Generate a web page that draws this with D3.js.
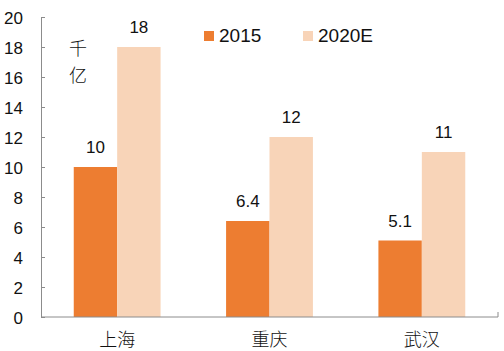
<!DOCTYPE html>
<html>
<head>
<meta charset="utf-8">
<script src="https://cdn.jsdelivr.net/npm/d3@7"></script>
<style>
  body { margin: 0; background: #fff; }
  .chart svg { display: block; }
  text { fill: #111; }
</style>
</head>
<body>
<div class="chart"></div>
<script>
const WIDTH = 504;
const HEIGHT = 351;

const LEFT = 41, RIGHT = 498, TOP = 17, BOTTOM = 317;

var cities = ['上海', '重庆', '武汉'];
var series = ['2015', '2020E'];
var values2015 = [10, 6.4, 5.1];
var values2020 = [18, 12, 11];
var yTicks = [0, 2, 4, 6, 8, 10, 12, 14, 16, 18, 20];
var unitLabel = ['千', '亿'];

var colors = { '2015': '#ED7D31', '2020E': '#F8D4B8' };

var data = cities.map(function (c, i) {
    return { city: c, vals: [
        { key: '2015', v: values2015[i] },
        { key: '2020E', v: values2020[i] }
    ] };
});

var translate = function (x, y) {
    return "translate(" + x + "," + y + ")";
};

var _svg = d3.select('.chart').append('svg')
    .attr('width', WIDTH)
    .attr('height', HEIGHT);

var _xScale = d3.scaleBand()
    .domain(cities)
    .range([LEFT, RIGHT])
    .paddingInner(0.43)
    .paddingOuter(0.215);

var _subScale = d3.scaleBand()
    .domain(series)
    .range([0, _xScale.bandwidth()]);

var _yScale = d3.scaleLinear()
    .domain([0, 20])
    .range([BOTTOM, TOP]);

// y axis
var yAxis = d3.axisLeft(_yScale).tickValues(yTicks).tickSizeInner(-4).tickSizeOuter(0).tickPadding(18);
var gy = _svg.append('g')
    .attr('transform', translate(LEFT, 0))
    .call(yAxis);
gy.select('.domain').attr('stroke', '#8c8c8c');
gy.selectAll('.tick line').attr('stroke', '#8c8c8c');
gy.selectAll('.tick text')
    .attr('font-family', 'Liberation Sans, Arial, sans-serif')
    .attr('font-size', 17)
    .attr('fill', '#111')
    .attr('dy', '0.36em');

// bars
var groups = _svg.selectAll('g.city').data(data)
    .enter().append('g')
    .attr('class', 'city')
    .attr('transform', function (d) { return translate(_xScale(d.city), 0); });

groups.selectAll('rect').data(function (d) { return d.vals; })
    .enter().append('rect')
    .attr('x', function (d) { return _subScale(d.key); })
    .attr('y', function (d) { return _yScale(d.v); })
    .attr('width', _subScale.bandwidth())
    .attr('height', function (d) { return BOTTOM - _yScale(d.v); })
    .attr('fill', function (d) { return colors[d.key]; });

groups.selectAll('text.val').data(function (d) { return d.vals; })
    .enter().append('text')
    .attr('class', 'val')
    .attr('x', function (d) { return _subScale(d.key) + _subScale.bandwidth() / 2; })
    .attr('y', function (d) { return _yScale(d.v) - 14; })
    .attr('text-anchor', 'middle')
    .attr('font-family', 'Liberation Sans, Arial, sans-serif')
    .attr('font-size', 17)
    .text(function (d) { return d.v; });

// x axis
var gx = _svg.append('g');
gx.append('line')
    .attr('x1', LEFT).attr('x2', RIGHT)
    .attr('y1', BOTTOM).attr('y2', BOTTOM)
    .attr('stroke', '#8c8c8c');
gx.append('line')
    .attr('x1', RIGHT).attr('x2', RIGHT)
    .attr('y1', BOTTOM - 5).attr('y2', BOTTOM)
    .attr('stroke', '#8c8c8c');
gx.selectAll('text').data(cities)
    .enter().append('text')
    .attr('x', function (d) { return _xScale(d) + _xScale.bandwidth() / 2; })
    .attr('y', 346)
    .attr('text-anchor', 'middle')
    .attr('font-family', 'Noto Sans CJK SC, sans-serif')
    .attr('font-weight', 300)
    .attr('font-size', 18)
    .text(function (d) { return d; });

// unit
_svg.selectAll('text.unit').data(unitLabel)
    .enter().append('text')
    .attr('class', 'unit')
    .attr('x', 78)
    .attr('y', function (d, i) { return 55 + i * 27; })
    .attr('text-anchor', 'middle')
    .attr('font-family', 'Noto Sans CJK SC, sans-serif')
    .attr('font-weight', 300)
    .attr('font-size', 18)
    .text(function (d) { return d; });

// legend
var legendX = [204, 303];
var legend = _svg.selectAll('g.legend').data(series)
    .enter().append('g')
    .attr('class', 'legend')
    .attr('transform', function (d, i) { return translate(legendX[i], 31); });
legend.append('rect')
    .attr('width', 10).attr('height', 10)
    .attr('fill', function (d) { return colors[d]; });
legend.append('text')
    .attr('x', 15)
    .attr('y', 11)
    .attr('font-family', 'Liberation Sans, Arial, sans-serif')
    .attr('font-size', 19)
    .text(function (d) { return d; });
</script>
</body>
</html>
